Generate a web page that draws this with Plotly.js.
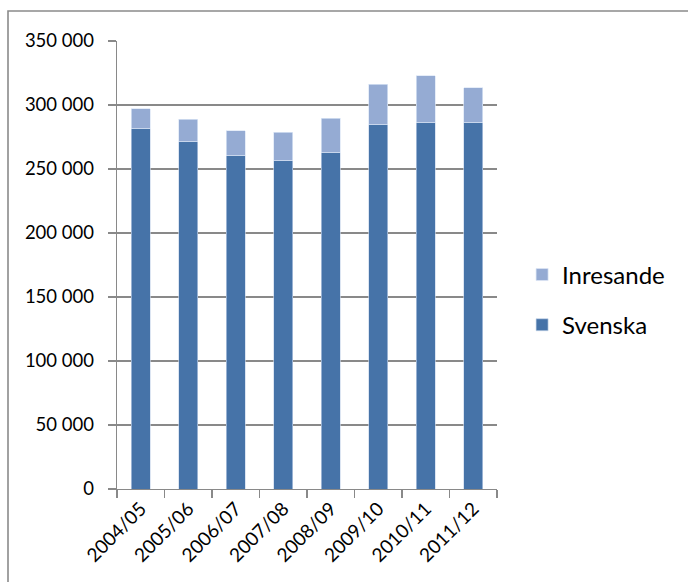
<!DOCTYPE html>
<html>
<head>
<meta charset="utf-8">
<script src="https://cdn.plot.ly/plotly-3.0.1.min.js"></script>
<style>
html,body{margin:0;padding:0;background:#fff;}
#chart{width:688px;height:582px;}
</style>
</head>
<body>
<div id="chart"></div>
<script>
const categories = ["2004/05","2005/06","2006/07","2007/08","2008/09","2009/10","2010/11","2011/12"];
const svenska    = [281500, 271100, 260200, 256300, 262800, 284400, 286000, 286000];
const inresande  = [15600, 17700, 19700, 22300, 26800, 31800, 36700, 27300];
const seriesNames = ["Svenska", "Inresande"];

const darkBlue = "#4673A8";
const lightBlue = "#95ABD3";

const traces = [
  {
    type: "bar", name: seriesNames[0], x: categories, y: svenska,
    legendgroup: "b", legendrank: 2,
    marker: {color: darkBlue, line: {color: "rgba(200,215,235,0.8)", width: 0.8}},
    hoverinfo: "x+y+name"
  },
  {
    type: "bar", name: seriesNames[1], x: categories, y: inresande,
    legendgroup: "a", legendrank: 1,
    marker: {color: lightBlue, line: {color: "rgba(220,230,245,0.9)", width: 0.8}},
    hoverinfo: "x+y+name"
  }
];

const fontFam = "Lato, 'Open Sans', sans-serif";
const layout = {
  width: 688, height: 582,
  margin: {l: 117, r: 191, t: 41, b: 93, pad: 0},
  paper_bgcolor: "#fff", plot_bgcolor: "#fff",
  barmode: "stack",
  bargap: 0.6,
  separators: ", ",
  font: {family: fontFam, color: "#000", size: 18},
  xaxis: {
    type: "category",
    tickson: "boundaries",
    ticks: "outside", ticklen: 8, tickwidth: 1.3, tickcolor: "#898989",
    showline: true, linecolor: "#898989", linewidth: 1.3,
    showgrid: false,
    tickangle: -45,
    tickfont: {family: fontFam, size: 19, color: "#000"},
    zeroline: false
  },
  yaxis: {
    range: [0, 350000], dtick: 50000, tick0: 0,
    tickformat: ",d",
    ticks: "outside", ticklen: 8, tickwidth: 1.3, tickcolor: "#898989",
    showline: true, linecolor: "#898989", linewidth: 1.3,
    showgrid: true, gridcolor: "#898989", gridwidth: 1.3,
    zeroline: false,
    ticklabelstandoff: 10,
    tickfont: {family: fontFam, size: 18.5, color: "#000"}
  },
  showlegend: true,
  legend: {
    x: 1.066, xanchor: "left",
    y: 0.422, yanchor: "middle",
    traceorder: "grouped",
    tracegroupgap: 16,
    font: {family: fontFam, size: 24, color: "#000"},
    bgcolor: "rgba(0,0,0,0)"
  },
  shapes: [
    {
      type: "rect", xref: "paper", yref: "paper",
      x0: (8 - 117) / 380, x1: (720 - 117) / 380,
      y0: (489 - 620) / 448, y1: (489 - 11) / 448,
      line: {color: "#8a8a8a", width: 1.6},
      fillcolor: "rgba(0,0,0,0)",
      layer: "below"
    }
  ]
};

Plotly.newPlot("chart", traces, layout, {displayModeBar: false, staticPlot: true});
</script>
</body>
</html>
